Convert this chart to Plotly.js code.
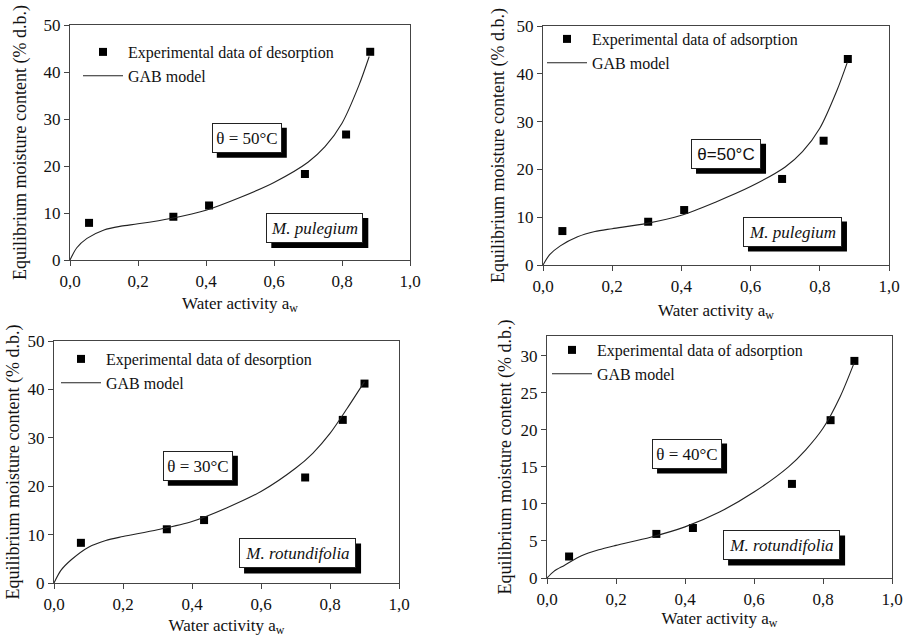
<!DOCTYPE html>
<html>
<head>
<meta charset="utf-8">
<script src="https://cdn.plot.ly/plotly-3.0.1.min.js"></script>
<style>html,body{margin:0;padding:0;background:#fff;}#chart{width:903px;height:642px;}</style>
</head>
<body>
<div id="chart"></div>
<script>
// ---- Data ----
// Panel 1: M. pulegium, desorption, 50°C
const p1ExpX = [0.056, 0.304, 0.409, 0.691, 0.812, 0.883];
const p1ExpY = [7.9, 9.2, 11.6, 18.3, 26.7, 44.3];
const p1GabX = [0, 0.02, 0.05, 0.1, 0.15, 0.2, 0.3, 0.4, 0.5, 0.6, 0.7, 0.75, 0.8, 0.85, 0.88];
const p1GabY = [0, 2.6, 4.6, 6.4, 7.2, 7.7, 8.9, 10.6, 13.3, 16.5, 20.8, 24.1, 29.1, 37.2, 43.3];

// Panel 2: M. pulegium, adsorption, 50°C
const p2ExpX = [0.056, 0.304, 0.408, 0.691, 0.811, 0.881];
const p2ExpY = [7.1, 9.05, 11.5, 18.0, 26.0, 43.1];
const p2GabX = [0, 0.02, 0.05, 0.1, 0.15, 0.2, 0.3, 0.4, 0.5, 0.6, 0.7, 0.75, 0.8, 0.85, 0.88];
const p2GabY = [0, 2.2, 4.0, 5.9, 7.0, 7.6, 8.7, 10.4, 13.2, 16.4, 20.5, 23.7, 28.6, 36.6, 42.5];

// Panel 3: M. rotundifolia, desorption, 30°C
const p3ExpX = [0.078, 0.327, 0.435, 0.728, 0.837, 0.900];
const p3ExpY = [8.3, 11.1, 13.0, 21.8, 33.7, 41.2];
const p3GabX = [0, 0.02, 0.05, 0.1, 0.15, 0.2, 0.3, 0.4, 0.5, 0.6, 0.7, 0.75, 0.8, 0.85, 0.9];
const p3GabY = [0, 2.6, 4.8, 7.4, 8.8, 9.6, 11.0, 12.7, 15.5, 18.9, 23.7, 26.8, 30.9, 36.1, 41.6];

// Panel 4: M. rotundifolia, adsorption, 40°C
const p4ExpX = [0.064, 0.317, 0.423, 0.710, 0.822, 0.891];
const p4ExpY = [2.9, 5.95, 6.75, 12.7, 21.3, 29.3];
const p4GabX = [0, 0.02, 0.05, 0.1, 0.15, 0.2, 0.3, 0.4, 0.5, 0.6, 0.7, 0.75, 0.8, 0.85, 0.89];
const p4GabY = [0, 0.9, 1.7, 3.0, 3.8, 4.4, 5.5, 6.9, 8.9, 11.6, 15.0, 17.3, 20.2, 24.5, 29.0];

const expNames = ["Experimental data of desorption", "Experimental data of adsorption",
                  "Experimental data of desorption", "Experimental data of adsorption"];
const modelName = "GAB model";
const tempLabels = ["θ = 50°C", "θ=50°C", "θ = 30°C", "θ = 40°C"];
const speciesLabels = ["M. pulegium", "M. pulegium", "M. rotundifolia", "M. rotundifolia"];
const yTickVals = [[0,10,20,30,40,50],[0,10,20,30,40,50],[0,10,20,30,40,50],[0,5,10,15,20,25,30]];
const xTickVals = [0, 0.2, 0.4, 0.6, 0.8, 1.0];
const xTitle = "Water activity a<sub>w</sub>";
const yTitle = "Equilibrium moisture content (% d.b.)";

// ---- Build ----
const FONT = "Liberation Serif";
const SANS = "Liberation Sans";
const INK = "#111";
const expX = [p1ExpX, p2ExpX, p3ExpX, p4ExpX];
const expY = [p1ExpY, p2ExpY, p3ExpY, p4ExpY];
const gabX = [p1GabX, p2GabX, p3GabX, p4GabX];
const gabY = [p1GabY, p2GabY, p3GabY, p4GabY];

const W = 903, H = 642;
// plot frames in pixels [left, right, top, bottom]
const frames = [[70, 410, 25, 260], [543, 889, 26, 265], [54, 399, 341, 583], [547, 892, 336, 578]];
const yRanges = [[0, 50], [0, 50], [0, 50], [0, 32.66]];
const legendPos = [[78, 35], [542, 22], [56, 342], [547, 333]];
const tempPos = [[0.52, 26], [0.529, 23.3], [0.417, 24.2], [0.406, 16.8]];
const speciesPos = [[0.72, 6.8], [0.721, 7.0], [0.706, 6.1], [0.68, 4.4]];
const speciesW = [97, 99, 117, 117];
const xTitleStandoff = [7, 9, 6, 4];
const yTitleStandoff = [12, 7, 3, 4];
const tempW = 70, boxH = 30, shadow = 5;

const traces = [];
const layout = {
  width: W, height: H,
  margin: {l: 0, r: 0, t: 0, b: 0},
  paper_bgcolor: "#fff", plot_bgcolor: "#fff",
  font: {family: FONT, size: 16, color: INK},
  separators: ", ",
  showlegend: true,
  annotations: [],
  shapes: []
};

for (let i = 0; i < 4; i++) {
  const n = i === 0 ? "" : String(i + 1);
  const xa = "x" + n, ya = "y" + n;
  const leg = "legend" + n;
  const f = frames[i];
  traces.push({
    x: expX[i], y: expY[i], xaxis: xa, yaxis: ya, legend: leg,
    type: "scatter", mode: "markers", name: expNames[i],
    marker: {symbol: "square", size: 8, color: "#000"}
  });
  traces.push({
    x: gabX[i], y: gabY[i], xaxis: xa, yaxis: ya, legend: leg,
    type: "scatter", mode: "lines", name: modelName,
    line: {shape: "spline", smoothing: 0.8, color: "#222", width: 1.1}
  });
  const axCommon = {
    showgrid: false, zeroline: false, showline: true, mirror: true,
    linecolor: "#444", linewidth: 1.2, ticks: "outside", ticklen: 5,
    tickcolor: "#444", tickfont: {family: FONT, size: 17, color: INK}
  };
  layout["xaxis" + n] = Object.assign({}, axCommon, {
    domain: [f[0] / W, f[1] / W], anchor: ya, range: [0, 1],
    tickvals: xTickVals, tickformat: ".1f",
    title: {text: xTitle, font: {family: FONT, size: 17, color: INK}, standoff: xTitleStandoff[i]}
  });
  layout["yaxis" + n] = Object.assign({}, axCommon, {
    domain: [1 - f[3] / H, 1 - f[2] / H], anchor: xa, range: yRanges[i],
    tickvals: yTickVals[i],
    title: {text: yTitle, font: {family: FONT, size: 18, color: INK}, standoff: yTitleStandoff[i]}
  });
  layout[leg] = {
    x: legendPos[i][0] / W, y: 1 - legendPos[i][1] / H, xanchor: "left", yanchor: "top",
    bgcolor: "rgba(0,0,0,0)", borderwidth: 0,
    font: {family: FONT, size: 16, color: INK}, itemwidth: 40, tracegroupgap: 0
  };
  // boxed labels with drop shadow
  const boxes = [
    {text: tempLabels[i], pos: tempPos[i], w: tempW, font: i === 1 ? SANS : FONT, italic: false},
    {text: speciesLabels[i], pos: speciesPos[i], w: speciesW[i], font: FONT, italic: true}
  ];
  boxes.forEach(b => {
    const txt = b.italic ? "<i>" + b.text + "</i>" : b.text;
    layout.shapes.push({
      type: "rect", xref: xa, yref: ya, layer: "above",
      xsizemode: "pixel", ysizemode: "pixel", xanchor: b.pos[0], yanchor: b.pos[1],
      x0: -b.w / 2 + shadow, x1: b.w / 2 + shadow, y0: -boxH / 2 - shadow, y1: boxH / 2 - shadow,
      fillcolor: "#000", line: {width: 0}
    });
    layout.annotations.push({
      xref: xa, yref: ya, x: b.pos[0], y: b.pos[1], text: txt, showarrow: false,
      width: b.w - 2, height: boxH - 2, borderpad: 0,
      bgcolor: "#fff", bordercolor: "#222", borderwidth: 1,
      font: {family: b.font, size: 17, color: INK}
    });
  });
}

Plotly.newPlot("chart", traces, layout, {staticPlot: true, displayModeBar: false});
</script>
</body>
</html>
